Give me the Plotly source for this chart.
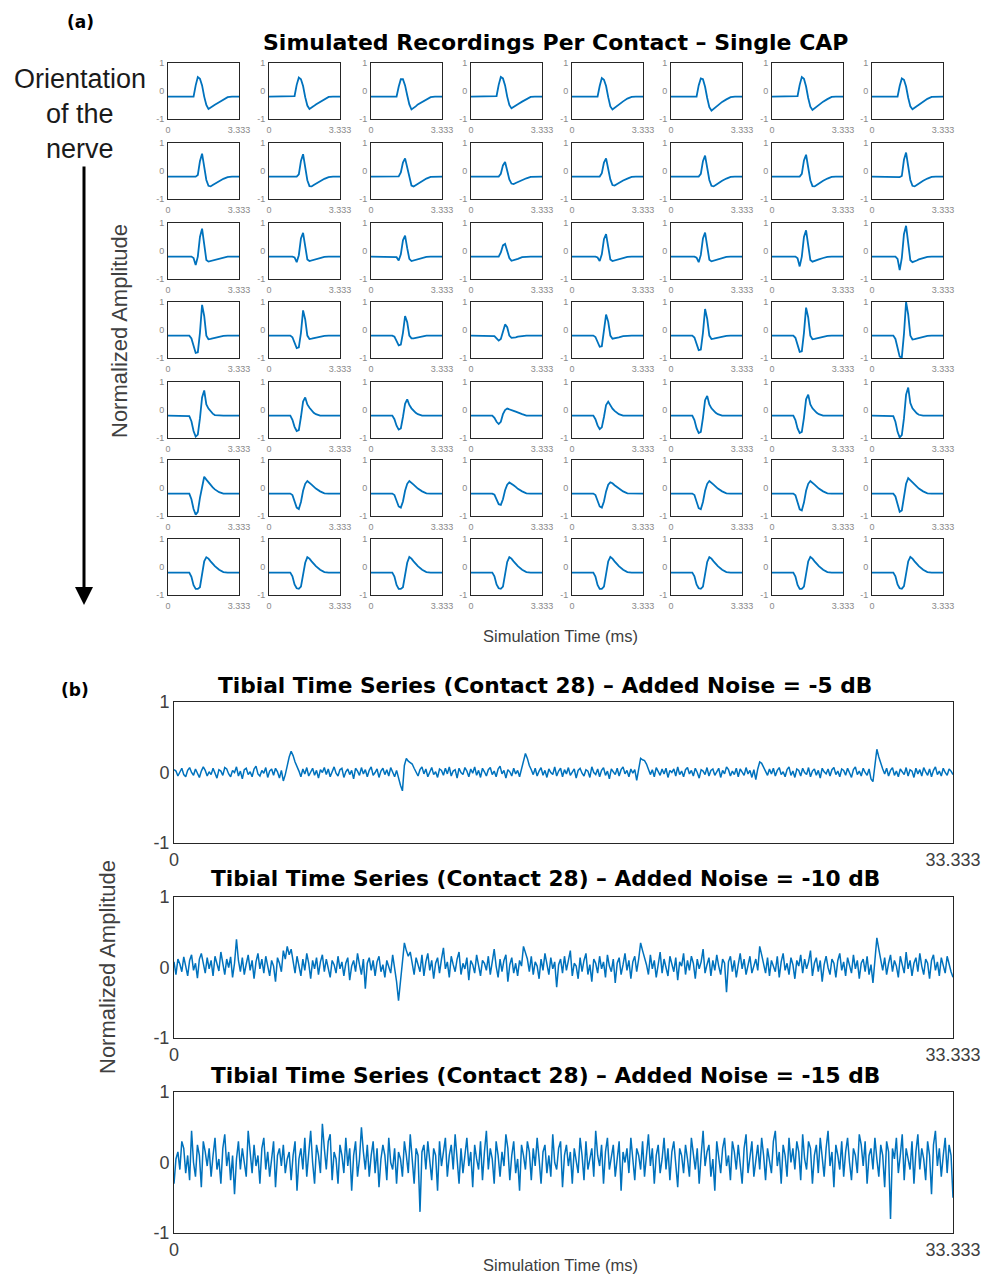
import numpy as np
import plotly.graph_objects as go

# ---------------- data ----------------
T_SMALL = [0, 1.0, 1.1, 1.2, 1.3, 1.4, 1.5, 1.6, 1.7, 1.8, 1.9, 2.0, 2.1, 2.2, 2.4, 2.6, 2.8, 3.0, 3.333]

cap_row1 = [
    [-0.2,-0.2,-0.2,-0.2,0.2,0.5,0.44,0.2,-0.2,-0.5,-0.64,-0.6,-0.55,-0.49,-0.4,-0.3,-0.22,-0.2,-0.2],
    [-0.2,-0.2,-0.2,-0.18,0.22,0.48,0.42,0.18,-0.22,-0.52,-0.64,-0.6,-0.54,-0.48,-0.38,-0.28,-0.21,-0.2,-0.2],
    [-0.2,-0.2,-0.2,-0.2,0.15,0.42,0.42,0.2,-0.15,-0.48,-0.66,-0.62,-0.55,-0.48,-0.4,-0.3,-0.22,-0.2,-0.2],
    [-0.2,-0.2,-0.2,-0.18,0.22,0.5,0.45,0.2,-0.2,-0.5,-0.62,-0.58,-0.53,-0.47,-0.38,-0.28,-0.21,-0.2,-0.2],
    [-0.2,-0.2,-0.2,-0.2,0.18,0.46,0.4,0.18,-0.22,-0.55,-0.66,-0.6,-0.54,-0.47,-0.37,-0.27,-0.21,-0.2,-0.2],
    [-0.2,-0.2,-0.2,-0.2,0.2,0.45,0.42,0.15,-0.25,-0.58,-0.7,-0.64,-0.56,-0.49,-0.39,-0.3,-0.22,-0.2,-0.2],
    [-0.2,-0.2,-0.2,-0.18,0.22,0.5,0.44,0.16,-0.25,-0.56,-0.68,-0.62,-0.55,-0.48,-0.38,-0.29,-0.21,-0.2,-0.2],
    [-0.2,-0.2,-0.2,-0.2,0.18,0.45,0.4,0.16,-0.24,-0.55,-0.65,-0.6,-0.54,-0.47,-0.37,-0.28,-0.21,-0.2,-0.2],
]
cap_row2 = [
    [-0.2,-0.2,-0.2,-0.2,-0.2,-0.14,0.35,0.62,0.2,-0.32,-0.53,-0.55,-0.5,-0.45,-0.36,-0.28,-0.22,-0.2,-0.2],
    [-0.2,-0.2,-0.2,-0.2,-0.2,-0.12,0.36,0.6,0.18,-0.33,-0.54,-0.55,-0.5,-0.45,-0.36,-0.28,-0.22,-0.2,-0.2],
    [-0.2,-0.2,-0.2,-0.2,-0.19,-0.05,0.3,0.45,0.12,-0.3,-0.52,-0.55,-0.5,-0.44,-0.35,-0.27,-0.21,-0.2,-0.2],
    [-0.2,-0.2,-0.2,-0.2,-0.2,-0.1,0.2,0.32,0.05,-0.3,-0.45,-0.47,-0.43,-0.39,-0.32,-0.26,-0.21,-0.2,-0.2],
    [-0.2,-0.2,-0.2,-0.2,-0.2,-0.08,0.3,0.45,0.1,-0.3,-0.5,-0.52,-0.47,-0.42,-0.34,-0.27,-0.21,-0.2,-0.2],
    [-0.2,-0.2,-0.2,-0.2,-0.2,-0.1,0.35,0.55,0.15,-0.32,-0.53,-0.55,-0.5,-0.44,-0.35,-0.27,-0.21,-0.2,-0.2],
    [-0.2,-0.2,-0.2,-0.2,-0.2,-0.1,0.38,0.58,0.15,-0.33,-0.54,-0.55,-0.5,-0.44,-0.35,-0.27,-0.21,-0.2,-0.2],
    [-0.2,-0.2,-0.2,-0.2,-0.22,-0.18,0.4,0.66,0.2,-0.32,-0.53,-0.55,-0.5,-0.44,-0.35,-0.27,-0.21,-0.2,-0.2],
]
cap_row3 = [
    [-0.2,-0.2,-0.2,-0.25,-0.5,-0.2,0.5,0.8,0.15,-0.32,-0.38,-0.36,-0.33,-0.3,-0.26,-0.22,-0.2,-0.2,-0.2],
    [-0.2,-0.2,-0.2,-0.23,-0.4,-0.15,0.45,0.65,0.1,-0.3,-0.36,-0.34,-0.31,-0.28,-0.24,-0.21,-0.2,-0.2,-0.2],
    [-0.2,-0.2,-0.2,-0.22,-0.34,-0.12,0.38,0.55,0.1,-0.28,-0.36,-0.34,-0.31,-0.28,-0.24,-0.21,-0.2,-0.2,-0.2],
    [-0.2,-0.2,-0.2,-0.2,-0.2,-0.05,0.2,0.25,0.02,-0.25,-0.35,-0.33,-0.31,-0.28,-0.22,-0.2,-0.2,-0.2,-0.2],
    [-0.2,-0.2,-0.2,-0.23,-0.36,-0.12,0.42,0.6,0.1,-0.3,-0.36,-0.34,-0.31,-0.28,-0.24,-0.21,-0.2,-0.2,-0.2],
    [-0.2,-0.2,-0.2,-0.24,-0.4,-0.14,0.45,0.66,0.12,-0.31,-0.37,-0.35,-0.32,-0.29,-0.25,-0.21,-0.2,-0.2,-0.2],
    [-0.2,-0.2,-0.2,-0.26,-0.55,-0.2,0.5,0.74,0.12,-0.32,-0.38,-0.36,-0.33,-0.3,-0.25,-0.21,-0.2,-0.2,-0.2],
    [-0.2,-0.2,-0.2,-0.28,-0.68,-0.25,0.6,0.9,0.18,-0.33,-0.4,-0.38,-0.34,-0.3,-0.25,-0.21,-0.2,-0.2,-0.2],
]
cap_row4 = [
    [-0.2,-0.2,-0.3,-0.55,-0.82,-0.8,-0.1,0.9,0.5,-0.2,-0.33,-0.32,-0.3,-0.28,-0.24,-0.21,-0.2,-0.2,-0.2],
    [-0.2,-0.2,-0.26,-0.45,-0.65,-0.62,-0.1,0.7,0.38,-0.2,-0.32,-0.31,-0.29,-0.27,-0.23,-0.21,-0.2,-0.2,-0.2],
    [-0.2,-0.2,-0.24,-0.4,-0.55,-0.52,-0.1,0.5,0.28,-0.2,-0.3,-0.3,-0.28,-0.26,-0.22,-0.2,-0.2,-0.2,-0.2],
    [-0.2,-0.2,-0.22,-0.3,-0.38,-0.32,-0.05,0.2,0.1,-0.2,-0.28,-0.28,-0.26,-0.24,-0.21,-0.2,-0.2,-0.2,-0.2],
    [-0.2,-0.2,-0.25,-0.42,-0.6,-0.58,-0.1,0.55,0.3,-0.2,-0.31,-0.3,-0.28,-0.26,-0.22,-0.2,-0.2,-0.2,-0.2],
    [-0.2,-0.2,-0.27,-0.5,-0.72,-0.7,-0.1,0.75,0.4,-0.2,-0.32,-0.31,-0.29,-0.27,-0.23,-0.21,-0.2,-0.2,-0.2],
    [-0.2,-0.2,-0.28,-0.52,-0.78,-0.76,-0.1,0.8,0.45,-0.2,-0.33,-0.32,-0.3,-0.28,-0.24,-0.21,-0.2,-0.2,-0.2],
    [-0.2,-0.2,-0.32,-0.62,-0.95,-0.98,-0.15,1.0,0.55,-0.2,-0.34,-0.33,-0.31,-0.28,-0.24,-0.21,-0.2,-0.2,-0.2],
]
cap_row5 = [
    [-0.2,-0.22,-0.4,-0.75,-0.95,-0.88,-0.3,0.45,0.7,0.2,0.05,-0.05,-0.13,-0.18,-0.2,-0.2,-0.2,-0.2,-0.2],
    [-0.2,-0.2,-0.35,-0.6,-0.75,-0.72,-0.25,0.3,0.45,0.2,0.08,-0.02,-0.1,-0.15,-0.2,-0.2,-0.2,-0.2,-0.2],
    [-0.2,-0.2,-0.33,-0.56,-0.7,-0.66,-0.25,0.22,0.38,0.18,0.06,-0.03,-0.1,-0.15,-0.2,-0.2,-0.2,-0.2,-0.2],
    [-0.2,-0.2,-0.28,-0.42,-0.5,-0.42,-0.15,0.0,0.05,0.03,0.0,-0.03,-0.06,-0.1,-0.15,-0.2,-0.2,-0.2,-0.2],
    [-0.2,-0.2,-0.33,-0.55,-0.68,-0.62,-0.25,0.18,0.3,0.15,0.05,-0.03,-0.1,-0.15,-0.2,-0.2,-0.2,-0.2,-0.2],
    [-0.2,-0.2,-0.36,-0.65,-0.82,-0.78,-0.28,0.35,0.5,0.2,0.06,-0.03,-0.1,-0.15,-0.2,-0.2,-0.2,-0.2,-0.2],
    [-0.2,-0.2,-0.36,-0.66,-0.82,-0.78,-0.28,0.38,0.55,0.2,0.06,-0.03,-0.1,-0.15,-0.2,-0.2,-0.2,-0.2,-0.2],
    [-0.2,-0.22,-0.42,-0.78,-0.98,-0.9,-0.3,0.55,0.8,0.25,0.06,-0.04,-0.12,-0.17,-0.2,-0.2,-0.2,-0.2,-0.2],
]
cap_row6 = [
    [-0.2,-0.2,-0.4,-0.75,-0.95,-0.85,-0.35,0.1,0.4,0.3,0.2,0.1,0.02,-0.05,-0.15,-0.2,-0.2,-0.2,-0.2],
    [-0.2,-0.2,-0.25,-0.45,-0.7,-0.75,-0.5,-0.1,0.15,0.25,0.2,0.12,0.05,-0.02,-0.12,-0.19,-0.2,-0.2,-0.2],
    [-0.2,-0.2,-0.25,-0.45,-0.66,-0.7,-0.48,-0.1,0.15,0.25,0.2,0.12,0.05,-0.02,-0.12,-0.19,-0.2,-0.2,-0.2],
    [-0.2,-0.2,-0.24,-0.4,-0.58,-0.6,-0.4,-0.08,0.12,0.2,0.16,0.1,0.04,-0.03,-0.12,-0.19,-0.2,-0.2,-0.2],
    [-0.2,-0.2,-0.25,-0.45,-0.66,-0.7,-0.48,-0.12,0.12,0.2,0.17,0.1,0.04,-0.03,-0.12,-0.19,-0.2,-0.2,-0.2],
    [-0.2,-0.2,-0.25,-0.48,-0.72,-0.76,-0.5,-0.1,0.15,0.25,0.2,0.12,0.05,-0.02,-0.12,-0.19,-0.2,-0.2,-0.2],
    [-0.2,-0.2,-0.26,-0.5,-0.76,-0.8,-0.52,-0.1,0.15,0.25,0.2,0.12,0.05,-0.02,-0.12,-0.19,-0.2,-0.2,-0.2],
    [-0.2,-0.2,-0.3,-0.6,-0.85,-0.8,-0.3,0.15,0.35,0.28,0.2,0.12,0.05,-0.02,-0.12,-0.19,-0.2,-0.2,-0.2],
]
cap_row7 = [
    [-0.2,-0.2,-0.35,-0.65,-0.78,-0.78,-0.72,-0.2,0.2,0.35,0.3,0.2,0.1,0.03,-0.1,-0.18,-0.2,-0.2,-0.2],
    [-0.2,-0.2,-0.33,-0.62,-0.76,-0.78,-0.7,-0.25,0.15,0.35,0.3,0.2,0.1,0.03,-0.1,-0.18,-0.2,-0.2,-0.2],
    [-0.2,-0.2,-0.34,-0.64,-0.78,-0.78,-0.72,-0.25,0.15,0.36,0.3,0.2,0.1,0.03,-0.1,-0.18,-0.2,-0.2,-0.2],
    [-0.2,-0.2,-0.33,-0.62,-0.76,-0.78,-0.7,-0.22,0.18,0.35,0.3,0.2,0.1,0.03,-0.1,-0.18,-0.2,-0.2,-0.2],
    [-0.2,-0.2,-0.34,-0.64,-0.78,-0.78,-0.7,-0.2,0.2,0.36,0.3,0.2,0.1,0.03,-0.1,-0.18,-0.2,-0.2,-0.2],
    [-0.2,-0.2,-0.33,-0.62,-0.76,-0.78,-0.7,-0.22,0.18,0.35,0.3,0.2,0.1,0.03,-0.1,-0.18,-0.2,-0.2,-0.2],
    [-0.2,-0.2,-0.34,-0.64,-0.78,-0.78,-0.7,-0.2,0.2,0.36,0.3,0.2,0.1,0.03,-0.1,-0.18,-0.2,-0.2,-0.2],
    [-0.2,-0.2,-0.33,-0.62,-0.76,-0.78,-0.68,-0.2,0.2,0.36,0.3,0.2,0.1,0.03,-0.1,-0.18,-0.2,-0.2,-0.2],
]
CAP_ROWS = [cap_row1, cap_row2, cap_row3, cap_row4, cap_row5, cap_row6, cap_row7]

noise_m5 = [
    0.04,0.02,-0.05,0.01,0.06,-0.03,-0.06,0.03,0.07,0.0,-0.04,0.05,-0.02,-0.07,0.02,0.08,0.03,-0.05,0.01,-0.03,
    0.06,-0.01,-0.08,0.04,0.02,-0.04,0.07,0.05,-0.02,-0.06,0.03,0.0,0.08,-0.05,0.02,-0.09,0.04,0.06,-0.03,0.01,
    -0.06,0.05,0.09,-0.02,-0.05,0.03,-0.01,0.07,-0.07,0.02,0.05,-0.04,0.06,0.01,-0.08,0.03,-0.12,-0.03,0.1,0.22,
    0.3,0.24,0.15,0.09,0.02,-0.06,0.05,-0.02,0.07,-0.05,0.01,0.06,-0.04,0.03,-0.08,0.04,0.0,0.07,-0.03,0.05,
    -0.06,0.02,0.08,-0.01,-0.05,0.04,0.06,-0.07,0.01,0.05,-0.03,0.03,-0.09,0.06,0.02,-0.04,0.07,-0.02,0.04,-0.06,
    0.03,0.08,-0.04,0.0,0.05,-0.07,0.02,0.06,-0.03,0.04,-0.05,0.07,0.01,-0.06,0.03,-0.1,-0.18,-0.26,0.1,0.2,
    0.16,0.14,0.12,0.06,0.0,-0.05,0.04,0.08,-0.02,0.05,-0.06,0.02,0.07,-0.03,0.01,-0.07,0.05,0.03,-0.04,0.06,
    -0.02,0.08,-0.05,0.02,0.04,-0.08,0.06,0.0,-0.03,0.07,0.02,-0.06,0.05,-0.01,0.08,-0.04,0.03,-0.07,0.06,0.01,
    -0.05,0.04,0.07,-0.03,0.02,-0.06,0.05,0.09,-0.02,0.03,-0.08,0.04,0.01,-0.05,0.06,-0.02,0.03,-0.06,0.05,0.18,
    0.27,0.2,0.1,0.04,-0.03,0.06,-0.05,0.02,0.07,-0.04,0.03,-0.07,0.05,0.0,-0.03,0.08,-0.05,0.02,0.06,-0.06,
    0.04,-0.02,0.07,-0.04,0.01,0.05,-0.08,0.03,0.06,-0.01,-0.05,0.04,0.02,-0.07,0.08,0.0,-0.03,0.05,-0.06,0.03,
    0.07,-0.04,0.02,-0.09,0.05,0.01,-0.03,0.06,-0.05,0.04,0.08,-0.02,0.03,-0.06,0.05,-0.01,0.04,-0.11,0.02,0.2,
    0.18,0.17,0.12,0.05,-0.03,0.04,-0.06,0.07,0.01,-0.04,0.05,-0.02,0.06,-0.07,0.03,0.0,0.05,-0.05,0.08,-0.03,
    0.02,-0.06,0.04,0.07,-0.02,0.03,-0.05,0.06,0.0,-0.08,0.04,0.02,-0.03,0.07,-0.05,0.03,0.05,-0.04,0.01,0.06,
    -0.07,0.03,-0.02,0.08,0.04,-0.05,0.02,-0.03,0.06,-0.06,0.05,0.01,-0.04,0.07,-0.02,0.03,-0.07,0.04,-0.1,0.05,
    0.15,0.13,0.08,0.02,-0.04,0.05,-0.02,0.06,-0.05,0.03,0.07,-0.03,0.01,-0.06,0.04,0.08,-0.04,0.02,-0.07,0.05,
    0.03,-0.05,0.06,0.0,-0.03,0.07,-0.06,0.02,0.05,-0.04,0.03,-0.08,0.06,0.01,-0.02,0.05,-0.05,0.04,0.07,-0.03,
    0.02,-0.06,0.05,0.03,-0.04,0.06,-0.01,-0.07,0.04,0.08,-0.03,0.02,-0.05,0.06,0.0,-0.04,0.05,-0.09,-0.13,0.1,
    0.33,0.22,0.12,0.05,-0.02,0.06,-0.05,0.03,0.07,-0.04,0.02,-0.06,0.05,0.01,-0.03,0.07,-0.05,0.04,0.02,-0.07,
    0.06,-0.02,0.04,-0.05,0.07,0.01,-0.04,0.05,-0.06,0.03,0.08,-0.03,0.02,-0.05,0.06,0.0,-0.04,0.05,0.02,-0.03,
]
noise_m10 = [
    0.08,-0.1,0.12,0.05,-0.06,0.15,0.02,-0.12,0.1,0.18,-0.04,0.06,-0.15,0.12,0.2,0.03,-0.08,0.14,-0.02,0.1,
    -0.12,0.16,0.05,-0.05,0.22,0.08,-0.1,0.12,0.0,0.15,-0.14,0.06,0.4,0.1,-0.06,0.14,-0.1,0.05,0.18,-0.04,
    0.1,-0.16,0.08,0.2,-0.02,0.12,-0.08,0.16,0.04,-0.12,0.1,0.02,-0.2,0.14,0.06,-0.06,0.24,0.12,0.3,0.18,
    0.26,0.1,-0.08,0.16,0.02,-0.12,0.12,-0.04,0.2,0.06,-0.16,0.1,-0.02,0.14,-0.1,0.08,0.18,-0.06,0.12,0.0,
    -0.14,0.1,0.04,-0.08,0.16,-0.02,0.08,-0.12,0.06,0.14,-0.18,0.02,0.1,-0.06,0.2,0.04,-0.1,0.12,-0.3,0.06,
    0.14,-0.04,0.1,-0.12,0.08,0.16,-0.06,0.04,-0.14,0.1,0.02,-0.08,0.18,0.0,-0.2,-0.47,-0.2,0.1,0.35,0.24,
    0.16,0.22,0.06,-0.1,0.14,0.02,-0.06,0.18,-0.12,0.08,0.2,-0.04,0.1,-0.16,0.06,0.14,-0.08,0.12,0.28,-0.02,
    0.08,-0.14,0.16,0.04,-0.06,0.12,0.22,-0.1,0.06,-0.02,0.14,-0.18,0.1,0.04,-0.08,0.18,0.0,-0.12,0.1,0.06,
    -0.04,0.16,-0.1,0.08,0.26,0.02,-0.14,0.12,-0.06,0.1,0.18,-0.2,0.04,0.14,-0.08,0.06,-0.12,0.1,0.02,0.3,
    0.22,0.12,-0.06,0.16,-0.1,0.08,0.02,-0.16,0.12,-0.04,0.2,0.06,-0.1,0.14,-0.02,0.08,-0.28,0.04,0.12,-0.08,
    0.16,-0.04,0.1,0.24,-0.12,0.06,0.02,-0.16,0.14,-0.06,0.1,0.2,-0.1,0.04,-0.2,0.12,0.06,-0.08,0.16,-0.02,
    0.08,-0.14,0.18,0.02,-0.06,0.12,-0.22,0.06,0.14,-0.1,0.04,0.2,-0.04,0.1,-0.16,0.08,0.16,-0.06,0.12,0.35,
    0.24,0.14,0.04,-0.1,0.18,-0.02,0.1,-0.14,0.06,0.22,-0.08,0.12,0.0,-0.12,0.16,0.06,-0.06,0.14,-0.18,0.08,
    0.02,0.2,-0.1,0.1,-0.04,0.16,0.06,-0.16,0.12,-0.02,0.08,0.26,-0.08,0.04,0.14,-0.12,0.1,-0.04,0.18,0.02,
    -0.1,0.12,0.06,-0.35,0.08,0.16,-0.06,0.1,-0.14,0.04,0.2,-0.02,0.12,-0.1,0.06,0.16,-0.08,0.02,0.12,-0.04,
    0.3,0.18,0.06,-0.08,0.14,-0.12,0.1,0.02,-0.06,0.16,-0.14,0.08,0.2,-0.04,0.06,-0.1,0.14,0.04,-0.16,0.1,
    0.02,0.18,-0.08,0.12,-0.02,0.08,0.24,-0.12,0.06,0.14,-0.06,0.1,-0.2,0.04,0.16,0.0,-0.1,0.12,0.06,-0.14,
    0.1,0.2,-0.04,0.08,-0.12,0.14,0.02,-0.08,0.18,-0.02,0.1,-0.16,0.06,0.12,-0.06,0.16,-0.1,0.04,-0.22,0.08,
    0.42,0.26,0.12,-0.04,0.14,-0.1,0.06,0.18,-0.06,0.1,0.02,-0.14,0.16,0.04,-0.08,0.22,-0.02,0.1,-0.12,0.06,
    0.14,-0.06,0.2,0.02,-0.1,0.12,0.06,-0.16,0.1,0.18,-0.04,0.08,-0.12,0.14,0.02,-0.08,0.16,0.04,-0.06,-0.14,
]
noise_m15 = [
    -0.3,0.05,0.15,-0.1,0.3,0.2,-0.15,0.1,-0.25,0.45,0.0,-0.2,0.25,0.1,-0.35,0.3,0.15,-0.05,0.2,-0.2,
    0.1,0.35,-0.1,0.05,-0.3,0.2,0.4,-0.05,0.15,-0.25,0.1,-0.45,0.05,0.3,-0.1,0.2,0.0,-0.2,0.45,0.1,
    -0.15,0.25,-0.05,0.1,-0.3,0.2,0.35,-0.1,0.15,-0.2,0.05,0.3,-0.35,0.1,0.2,-0.05,0.25,-0.15,0.05,0.15,
    -0.25,0.1,0.3,-0.4,0.05,0.2,-0.1,0.35,-0.2,0.15,0.45,0.0,-0.3,0.25,0.1,-0.15,0.55,0.2,-0.1,0.3,
    0.4,-0.25,0.15,0.05,-0.3,0.25,0.1,-0.15,0.35,-0.05,0.2,-0.4,0.1,0.3,-0.2,0.05,0.5,0.15,-0.1,0.25,
    -0.2,0.1,0.3,-0.15,0.2,-0.35,0.05,0.25,0.1,-0.25,0.35,0.0,-0.1,0.2,-0.3,0.15,0.05,-0.2,0.3,0.1,
    -0.15,0.4,0.05,-0.3,0.2,0.1,-0.7,0.15,0.25,-0.1,0.3,0.0,-0.25,0.2,0.1,-0.4,0.3,-0.05,0.15,0.35,
    -0.2,0.1,0.25,-0.1,0.4,0.05,-0.3,0.2,-0.15,0.1,0.35,-0.05,0.15,-0.35,0.25,0.05,-0.1,0.3,-0.25,0.15,
    0.45,-0.1,0.2,0.05,-0.3,0.3,0.1,-0.2,0.15,-0.05,0.4,0.2,-0.25,0.1,0.3,-0.15,0.05,-0.4,0.25,0.1,
    -0.1,0.3,0.15,-0.25,0.2,-0.05,0.35,0.05,-0.3,0.15,0.25,-0.15,0.1,-0.2,0.4,0.0,-0.1,0.2,0.3,-0.35,
    0.1,0.25,-0.05,0.15,-0.3,0.2,0.05,-0.15,0.35,0.1,-0.25,0.3,-0.1,0.05,0.2,-0.2,0.45,0.1,-0.05,0.25,
    -0.3,0.15,0.35,-0.1,0.05,0.25,-0.2,0.1,0.3,-0.4,0.15,0.0,0.2,-0.15,0.35,0.05,-0.25,0.2,0.1,-0.1,
    0.3,-0.2,0.15,0.4,-0.05,0.2,-0.3,0.1,0.25,-0.15,0.05,0.35,-0.1,0.2,-0.25,0.15,0.3,0.0,-0.35,0.2,
    0.1,-0.15,0.25,0.05,-0.2,0.35,0.15,-0.1,0.2,-0.3,0.1,0.45,-0.05,0.15,0.25,-0.2,0.05,-0.4,0.3,0.1,
    -0.15,0.2,0.35,-0.05,0.1,-0.25,0.3,0.15,-0.1,0.25,0.0,-0.3,0.2,0.4,-0.15,0.1,0.3,-0.2,0.05,0.25,
    -0.1,0.35,0.1,-0.25,0.2,0.05,-0.15,0.3,0.45,-0.05,0.15,-0.3,0.25,0.1,-0.2,0.35,0.0,0.2,-0.1,0.3,
    0.15,-0.25,0.4,0.05,-0.1,0.3,0.2,-0.3,0.1,0.25,-0.15,0.35,0.05,-0.2,0.2,0.45,-0.05,0.15,-0.35,0.25,
    0.1,-0.1,0.3,-0.2,0.15,0.35,0.0,-0.25,0.2,0.1,-0.15,0.4,0.25,-0.05,0.3,-0.3,0.1,0.2,-0.1,0.35,
    0.05,-0.2,0.25,0.1,-0.35,0.3,0.15,-0.8,0.2,0.05,0.35,-0.15,0.1,0.4,-0.25,0.2,0.05,-0.1,0.3,-0.3,
    0.15,0.4,-0.1,0.2,0.05,-0.25,0.3,0.1,-0.45,0.25,0.45,-0.05,0.2,-0.2,0.1,0.35,-0.15,0.25,0.1,-0.5,
]
NOISE_SERIES = [noise_m5, noise_m10, noise_m15]
NOISE_TITLES = [
    "Tibial Time Series (Contact 28) – Added Noise = -5 dB",
    "Tibial Time Series (Contact 28) – Added Noise = -10 dB",
    "Tibial Time Series (Contact 28) – Added Noise = -15 dB",
]
T_END_BIG = 33.333

small_xtickvals = [0, 3.333]
small_xticktext = ["0", "3.333"]
ytickvals = [-1, 0, 1]
ytickext = ["-1", "0", "1"]
big_xtickvals = [0, 33.333]
big_xticktext = ["0", "33.333"]

# ---------------- layout helpers ----------------
W, H = 983, 1276
LINE = "#0072BD"


def fx(p):
    return p / W


def fy(p):
    return 1 - p / H


fig = go.Figure()
layout = {}

col_left = [168, 269, 371, 471, 572, 671, 772, 872]
row_top = [63, 143, 223, 302, 382, 460, 539]
bw, bh = 71, 56

common = dict(showline=True, mirror=True, linecolor="#262626", linewidth=1,
              showgrid=False, zeroline=False, ticks="", automargin=False)

n = 0
for r, row in enumerate(CAP_ROWS):
    for c, vals in enumerate(row):
        n += 1
        xa = "x" if n == 1 else f"x{n}"
        ya = "y" if n == 1 else f"y{n}"
        fig.add_trace(go.Scatter(x=T_SMALL, y=vals, mode="lines",
                                 line=dict(color=LINE, width=1.8),
                                 xaxis=xa, yaxis=ya, showlegend=False,
                                 hoverinfo="skip"))
        kx = "xaxis" if n == 1 else f"xaxis{n}"
        ky = "yaxis" if n == 1 else f"yaxis{n}"
        x0, y0 = col_left[c], row_top[r]
        layout[kx] = dict(domain=[fx(x0), fx(x0 + bw)], anchor=ya,
                          range=[0, 3.333], tickvals=small_xtickvals,
                          ticktext=small_xticktext, ticklabelstandoff=2,
                          tickfont=dict(size=9, color="#8a8a8a",
                                        family="Liberation Sans"), **common)
        layout[ky] = dict(domain=[fy(y0 + bh), fy(y0)], anchor=xa,
                          range=[-1, 1], tickvals=ytickvals, ticktext=ytickext,
                          ticklabelstandoff=1,
                          tickfont=dict(size=9, color="#8a8a8a",
                                        family="Liberation Sans"), **common)

big_tops = [702, 897, 1092]
big_h = 141
for i, vals in enumerate(NOISE_SERIES):
    n += 1
    xa, ya = f"x{n}", f"y{n}"
    t = np.linspace(0, T_END_BIG, len(vals))
    fig.add_trace(go.Scatter(x=t, y=vals, mode="lines",
                             line=dict(color=LINE, width=1.5),
                             xaxis=xa, yaxis=ya, showlegend=False,
                             hoverinfo="skip"))
    y0 = big_tops[i]
    layout[f"xaxis{n}"] = dict(domain=[fx(174), fx(953)], anchor=ya,
                               range=[0, T_END_BIG], tickvals=big_xtickvals,
                               ticktext=big_xticktext,
                               tickfont=dict(size=18, color="#404040",
                                             family="Liberation Sans"), **common)
    layout[f"yaxis{n}"] = dict(domain=[fy(y0 + big_h), fy(y0)], anchor=xa,
                               range=[-1, 1], tickvals=ytickvals,
                               ticktext=ytickext,
                               tickfont=dict(size=18, color="#404040",
                                             family="Liberation Sans"), **common)

BOLD = "DejaVu Sans"
ann = []


def text(x, y, s, size, color="#000000", family="Liberation Sans", bold=False,
         angle=0):
    ann.append(dict(x=fx(x), y=fy(y), xref="paper", yref="paper",
                    text=(f"<b>{s}</b>" if bold else s),
                    showarrow=False, xanchor="center", yanchor="middle",
                    textangle=angle,
                    font=dict(size=size, color=color, family=family)))


text(80, 22, "(a)", 17, family=BOLD, bold=True)
text(555, 42, "Simulated Recordings Per Contact – Single CAP", 22, family=BOLD, bold=True)
text(80, 79, "Orientation", 27, color="#1a1a1a")
text(80, 114, "of the", 27, color="#1a1a1a")
text(80, 149, "nerve", 27, color="#1a1a1a")
text(120, 331, "Normalized Amplitude", 22, color="#404040", angle=-90)
text(560, 636, "Simulation Time (ms)", 16.5, color="#404040")
text(75, 690, "(b)", 17, family=BOLD, bold=True)
for i, ttl in enumerate(NOISE_TITLES):
    text(545, [685, 878, 1075][i], ttl, 21.7, family=BOLD, bold=True)
text(107, 967, "Normalized Amplitude", 22, color="#404040", angle=-90)
text(560, 1265, "Simulation Time (ms)", 16.5, color="#404040")

# orientation arrow
ann.append(dict(x=fx(84), y=fy(605), xref="paper", yref="paper", text="",
                showarrow=True, ax=0, ay=-440, arrowhead=2, arrowsize=1.2,
                arrowwidth=3, arrowcolor="#000000"))

layout["annotations"] = ann
fig.update_layout(**layout)
fig.update_layout(width=W, height=H,
                  margin=dict(l=0, r=0, t=0, b=0, pad=0, autoexpand=False),
                  paper_bgcolor="white", plot_bgcolor="white",
                  showlegend=False)
fig.write_html("out.html",
               config={"displayModeBar": False, "staticPlot": True},
               post_script="document.body.style.margin='0';"
                           "document.body.style.padding='0';"
                           "document.body.style.overflow='hidden';"
                           "document.documentElement.style.overflow='hidden';")
